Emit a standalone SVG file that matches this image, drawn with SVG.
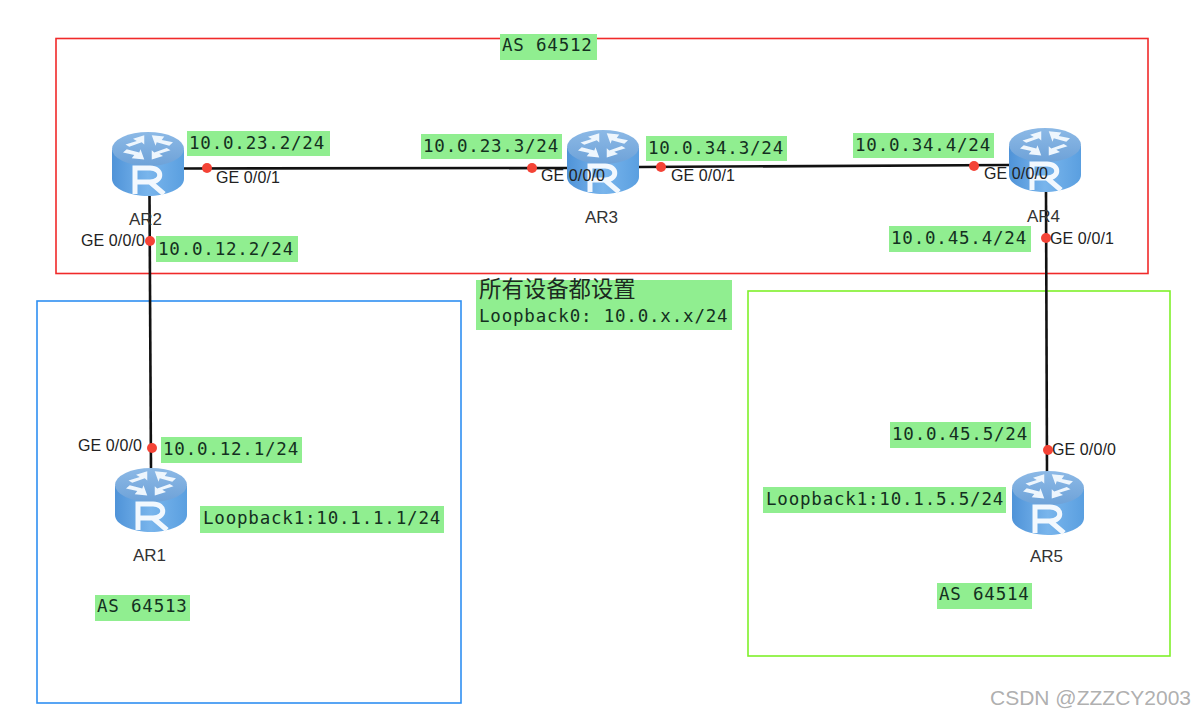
<svg xmlns="http://www.w3.org/2000/svg" width="1196" height="718" viewBox="0 0 1196 718">
<style>
.ip{font:17.5px "DejaVu Sans Mono","Liberation Mono",monospace;letter-spacing:.8px;fill:#14301f}
.bg{fill:#90ee90}
.if{font:16px "Liberation Sans",Arial,sans-serif;fill:#222;letter-spacing:.1px}
.nm{font:17px "Liberation Sans",Arial,sans-serif;fill:#333}
.dot{fill:#f44336}
.ln{stroke:#111;stroke-width:2.6;fill:none}
.area{fill:none;stroke-width:1.6}
</style>
<defs>
<linearGradient id="side" x1="0" x2="1" y1="0" y2="0"><stop offset="0" stop-color="#4f93d8"/><stop offset=".5" stop-color="#79b5ec"/><stop offset="1" stop-color="#5a9fe0"/></linearGradient>
<linearGradient id="top" x1="0" x2="0" y1="0" y2="1"><stop offset="0" stop-color="#8cb9e6"/><stop offset="1" stop-color="#6ea2d8"/></linearGradient>
<g id="router">
<path d="M-36 -14V15C-36 25-18 32 0 32S36 25 36 15V-14Z" fill="url(#side)"/>
<ellipse cx="0" cy="-15" rx="36" ry="17" fill="url(#top)"/>
<path transform="translate(0 -16) scale(1.25 1.15) translate(0 16)" d="M-3 -27l-9 3 3 2-9 3 3 2 10-4 2 2zM3 -27l10 1-2 3 9 2-3 3-10-3-1 3zM-3 -6l-10-1 2-3-9-2 3-3 10 3 1-3zM3 -6l9-3-3-2 9-3-3-2-10 4-2-2z" fill="#eef6fd"/>
<path d="M-13 30V4H2C15 4 15 18 2 18H-13M2 18L16 30" fill="none" stroke="#f2f8fe" stroke-width="5"/>
</g>
</defs>
<rect width="1196" height="718" fill="#fff"/>
<g id="areas">
<rect class="area" x="56" y="38.500" width="1092" height="235" stroke="#f02a2a"/>
<rect class="area" x="37" y="301" width="424" height="402" stroke="#2f8ff2"/>
<rect class="area" x="748" y="291" width="422" height="365" stroke="#7ff02a"/>
</g>
<g id="connectors">
<path class="ln" d="M184 168.500L567 168"/>
<path class="ln" d="M639 167L1009 165"/>
<path class="ln" d="M149.500 196L151 470"/>
<path class="ln" d="M1046 192L1047 472"/>
</g>
<g id="AR2"><use href="#router" x="148" y="164"/><text class="nm" x="129" y="225">AR2</text></g>
<g id="AR3"><use href="#router" x="603" y="162"/><text class="nm" x="585" y="223">AR3</text></g>
<g id="AR4"><use href="#router" x="1045" y="160"/><text class="nm" x="1027" y="222">AR4</text></g>
<g id="AR1"><use href="#router" x="151" y="500"/><text class="nm" x="133" y="561">AR1</text></g>
<g id="AR5"><use href="#router" x="1048" y="503"/><text class="nm" x="1030" y="562">AR5</text></g>
<g id="ports">
<circle class="dot" cx="207" cy="168" r="5"/><circle class="dot" cx="532" cy="168" r="5"/>
<circle class="dot" cx="661" cy="167" r="5"/><circle class="dot" cx="974" cy="166" r="5"/>
<circle class="dot" cx="150" cy="241" r="5"/><circle class="dot" cx="1046" cy="238" r="5"/>
<circle class="dot" cx="152" cy="448" r="5"/><circle class="dot" cx="1048" cy="450" r="5"/>
<text class="if" x="216" y="183">GE 0/0/1</text>
<text class="if" x="541" y="181">GE 0/0/0</text>
<text class="if" x="671" y="181">GE 0/0/1</text>
<text class="if" x="984" y="179">GE 0/0/0</text>
<text class="if" x="81" y="246">GE 0/0/0</text>
<text class="if" x="1050" y="244">GE 0/0/1</text>
<text class="if" x="78" y="451">GE 0/0/0</text>
<text class="if" x="1052" y="455">GE 0/0/0</text>
</g>
<g id="labels">
<rect class="bg" x="187" y="131" width="143" height="25"/><text class="ip" x="189" y="149">10.0.23.2/24</text>
<rect class="bg" x="421" y="134" width="141" height="25"/><text class="ip" x="423" y="152">10.0.23.3/24</text>
<rect class="bg" x="646" y="136" width="141" height="25"/><text class="ip" x="648" y="154">10.0.34.3/24</text>
<rect class="bg" x="853" y="133" width="141" height="25"/><text class="ip" x="855" y="151">10.0.34.4/24</text>
<rect class="bg" x="156" y="236" width="142" height="26"/><text class="ip" x="158" y="255">10.0.12.2/24</text>
<rect class="bg" x="889" y="226" width="142" height="26"/><text class="ip" x="891" y="244">10.0.45.4/24</text>
<rect class="bg" x="161" y="437" width="141" height="26"/><text class="ip" x="163" y="455">10.0.12.1/24</text>
<rect class="bg" x="890" y="422" width="141" height="26"/><text class="ip" x="892" y="440">10.0.45.5/24</text>
<rect class="bg" x="200" y="506" width="244" height="27"/><text class="ip" x="203" y="524">Loopback1:10.1.1.1/24</text>
<rect class="bg" x="763" y="487" width="243" height="26"/><text class="ip" x="766" y="505">Loopback1:10.1.5.5/24</text>
<rect class="bg" x="500" y="34" width="97" height="26"/><text class="ip" x="502" y="51">AS 64512</text>
<rect class="bg" x="95" y="595" width="95" height="26"/><text class="ip" x="97" y="612">AS 64513</text>
<rect class="bg" x="937" y="583" width="95" height="26"/><text class="ip" x="939" y="600">AS 64514</text>
<rect class="bg" x="476" y="280" width="256" height="50"/>
<text x="479" y="297" font-family="'Noto Sans CJK SC',sans-serif" font-size="22.400" fill="#1c2a20">所有设备都设置</text>
<text class="ip" x="479" y="322">Loopback0: 10.0.x.x/24</text>
</g>
<text id="watermark" x="990" y="705" font-family="'Liberation Sans',sans-serif" font-size="21" fill="#9a9a9a" fill-opacity=".8">CSDN @ZZZCY2003</text>
</svg>
